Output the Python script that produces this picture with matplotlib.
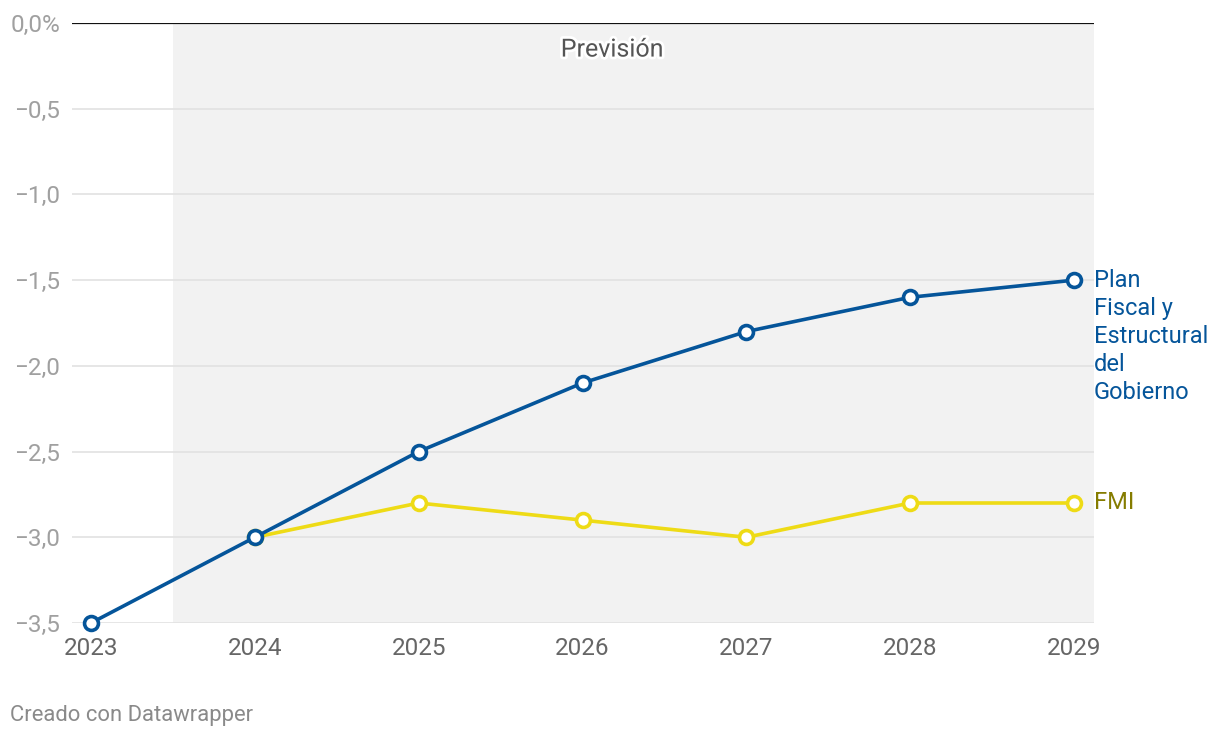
import matplotlib
matplotlib.use("Agg")
import matplotlib.pyplot as plt
import matplotlib.patheffects as pe

plt.rcParams['font.family'] = ['Roboto', 'DejaVu Sans']

years = [2023, 2024, 2025, 2026, 2027, 2028, 2029]
plan = [-3.5, -3.0, -2.5, -2.1, -1.8, -1.6, -1.5]
fmi_years = [2024, 2025, 2026, 2027, 2028, 2029]
fmi = [-3.0, -2.8, -2.9, -3.0, -2.8, -2.8]
yticks = [0, -0.5, -1.0, -1.5, -2.0, -2.5, -3.0, -3.5]
ytick_labels = ["0,0%", "\u22120,5", "\u22121,0", "\u22121,5", "\u22122,0", "\u22122,5", "\u22123,0", "\u22123,5"]
plan_label = ["Plan", "Fiscal y", "Estructural", "del", "Gobierno"]
fmi_label = "FMI"

BLUE = "#05559a"
YELLOW = "#eedb16"
OLIVE = "#857c00"

W, H = 1220, 740
fig = plt.figure(figsize=(W / 100, H / 100), dpi=100)
left, right, top, bottom = 72, 1094, 23, 623
ax = fig.add_axes([left / W, 1 - bottom / H, (right - left) / W, (bottom - top) / H])

px_per_year = (1074 - 91) / 6
ax.set_xlim(2023 - 19 / px_per_year, 2029 + 20 / px_per_year)
ax.set_ylim(-3.5, 0)

ax.axvspan(2023.5, ax.get_xlim()[1], color="#f2f2f2", zorder=0, lw=0)

for y in yticks:
    if y == 0:
        ax.axhline(y, color="#111111", lw=1.6, zorder=1)
    else:
        ax.axhline(y, color="#e2e2e2", lw=1.2, zorder=1)

ax.plot(fmi_years, fmi, color=YELLOW, lw=2.6, marker="o", ms=10, mfc="white",
        mec=YELLOW, mew=2.6, zorder=3, clip_on=False)
ax.plot(years, plan, color=BLUE, lw=2.6, marker="o", ms=10, mfc="white",
        mec=BLUE, mew=2.6, zorder=4, clip_on=False)

for s in ax.spines.values():
    s.set_visible(False)
ax.set_yticks(yticks)
ax.set_yticklabels(ytick_labels)
ax.set_xticks(years)
ax.set_xticklabels([str(y) for y in years])
ax.tick_params(axis="y", length=0, pad=8.5, labelsize=17.5, labelcolor="#a0a0a0")
ax.tick_params(axis="x", length=0, pad=10, labelsize=17.5, labelcolor="#666666")

ax.text(2023 + (612 - 91) / px_per_year, -0.155, "Previsión", ha="center", va="center",
        fontsize=18, color="#555555",
        path_effects=[pe.withStroke(linewidth=4, foreground="white")], zorder=5)

ytrans = ax.get_yaxis_transform()
for i, line in enumerate(plan_label):
    ax.annotate(line, xy=(1.0, plan[-1]), xycoords=ytrans,
                xytext=(0, -28 * i * 0.72), textcoords="offset points",
                ha="left", va="center", fontsize=17, color=BLUE, annotation_clip=False)
ax.annotate(fmi_label, xy=(1.0, fmi[-1]), xycoords=ytrans, xytext=(0, 0),
            textcoords="offset points", ha="left", va="center", fontsize=17,
            color=OLIVE, annotation_clip=False)

fig.text(10 / W, 1 - 716 / H, "Creado con Datawrapper", ha="left", va="center",
         fontsize=15.8, color="#8a8a8a")

fig.savefig("out.png", dpi=100)
